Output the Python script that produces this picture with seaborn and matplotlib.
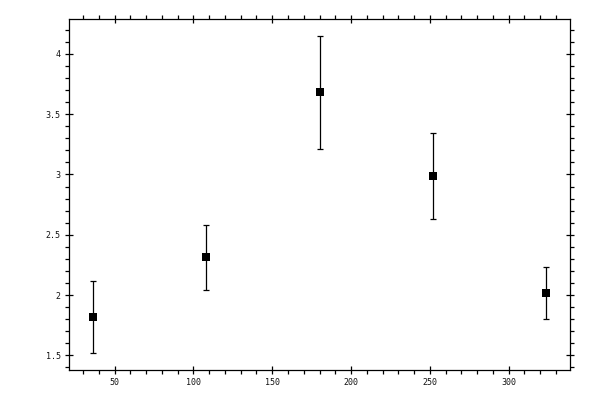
import matplotlib
matplotlib.use("Agg")
import matplotlib.pyplot as plt
from matplotlib.ticker import MultipleLocator
import seaborn as sns
import pandas as pd

# data
x_vals = [36, 108, 180, 252, 324]
y_vals = [1.817, 2.312, 3.682, 2.988, 2.017]
y_err = [0.30, 0.27, 0.47, 0.354, 0.212]

df = pd.DataFrame({"x": x_vals, "y": y_vals, "err": y_err})

sns.set_style("white")
plt.rcParams['font.family'] = ['DejaVu Sans Mono']

fig = plt.figure(figsize=(6, 4), dpi=100)
ax = fig.add_axes([0.115, 0.075, 0.835, 0.8775])

ax.errorbar(df["x"], df["y"], yerr=df["err"], fmt='none', ecolor='black',
            elinewidth=0.9, capsize=2.0, capthick=0.9, zorder=2)
sns.scatterplot(data=df, x="x", y="y", marker='s', color='black', s=28,
                edgecolor='black', linewidth=0, ax=ax, zorder=3)

ax.set_xlim(21, 339)
ax.set_ylim(1.378, 4.29)
ax.xaxis.set_major_locator(MultipleLocator(50))
ax.xaxis.set_minor_locator(MultipleLocator(10))
ax.yaxis.set_major_locator(MultipleLocator(0.5))
ax.yaxis.set_minor_locator(MultipleLocator(0.1))
ax.set_yticks([1.5, 2, 2.5, 3, 3.5, 4])
ax.set_yticklabels(['1.5', '2', '2.5', '3', '3.5', '4'])
ax.set_xlabel('')
ax.set_ylabel('')

for s in ax.spines.values():
    s.set_visible(True)
    s.set_color('black')
    s.set_linewidth(0.9)

ax.tick_params(which='major', direction='inout', length=6, width=0.9,
               top=True, right=True, bottom=True, left=True,
               labelsize=6, pad=3, colors='black', labelcolor='#111111')
ax.tick_params(which='minor', direction='out', length=2.6, width=0.9,
               top=True, right=True, bottom=True, left=True, colors='black')

fig.savefig("out.png", dpi=100)
plt.close(fig)
